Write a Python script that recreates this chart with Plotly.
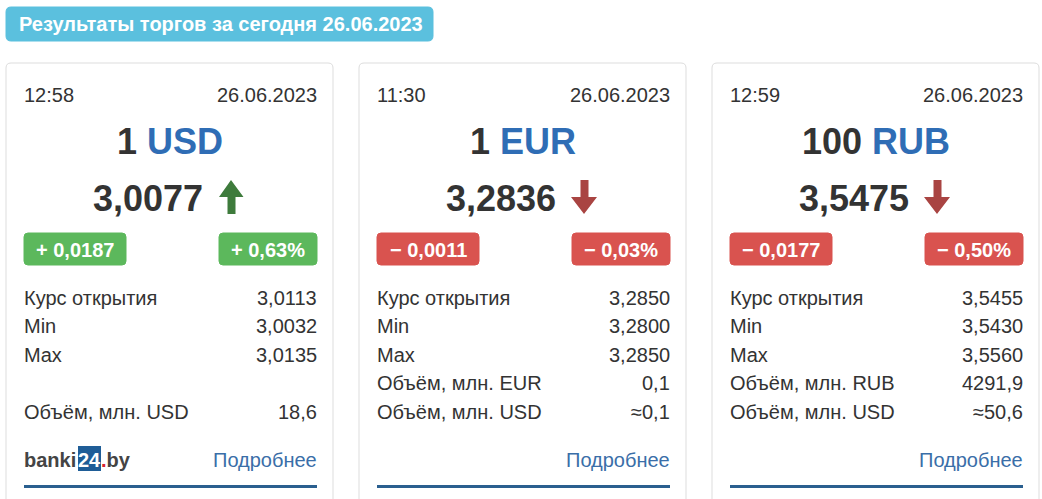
import plotly.graph_objects as go

# trading results for 26.06.2023
title_text = "Результаты торгов за сегодня 26.06.2023"
currencies = ["USD", "EUR", "RUB"]
units = [1, 1, 100]
times = ["12:58", "11:30", "12:59"]
dates = ["26.06.2023", "26.06.2023", "26.06.2023"]
rates = [3.0077, 3.2836, 3.5475]
changes = [0.0187, -0.0011, -0.0177]
change_pct = [0.63, -0.03, -0.50]
open_rates = [3.0113, 3.2850, 3.5455]
min_rates = [3.0032, 3.2800, 3.5430]
max_rates = [3.0135, 3.2850, 3.5560]
volume_own = [None, 0.1, 4291.9]
volume_usd = [18.6, 0.1, 50.6]
volume_usd_approx = [False, True, True]

FONT = "Liberation Sans, Arial, sans-serif"
TXT = "#333333"
BLUE = "#2f6db5"
LINK = "#3a6ea8"
GREEN = "#5cb85c"
RED = "#d9534f"


def num(v, digits):
    return f"{v:.{digits}f}".replace(".", ",")


def signed(v, digits, suffix=""):
    sign = "+" if v >= 0 else "\u2212"
    return f"{sign} {num(abs(v), digits)}{suffix}"


def rrect(x0, y0, x1, y1, r):
    return (f"M{x0 + r},{y0} L{x1 - r},{y0} Q{x1},{y0} {x1},{y0 + r} "
            f"L{x1},{y1 - r} Q{x1},{y1} {x1 - r},{y1} L{x0 + r},{y1} "
            f"Q{x0},{y1} {x0},{y1 - r} L{x0},{y0 + r} Q{x0},{y0} {x0 + r},{y0} Z")


fig = go.Figure()
fig.add_trace(go.Scatter(x=[0], y=[0], mode="markers", marker_opacity=0, hoverinfo="skip"))


def text(x, y, s, size=20, color=TXT, anchor="left", bold=False):
    fig.add_annotation(x=x, y=y, xref="x", yref="y", text=f"<b>{s}</b>" if bold else s,
                       showarrow=False, xanchor=anchor, yanchor="middle",
                       font=dict(family=FONT, size=size, color=color),
                       borderpad=0, borderwidth=0)


def box(x0, y0, x1, y1, fill, r=4, line=None):
    fig.add_shape(type="path", path=rrect(x0, y0, x1, y1, r), xref="x", yref="y",
                  fillcolor=fill, line=dict(color=line or fill, width=1), layer="below")


# header pill
box(6, 7, 433, 41, "#5bc0de", r=5)
text(19, 24, title_text, size=20, color="white", bold=True)

for i, cur in enumerate(currencies):
    x0 = 6 + i * 353
    left, right, c = x0 + 18, x0 + 311, x0 + 163.5

    box(x0, 63, x0 + 327, 530, "white", r=5, line="#dddddd")

    text(left, 95, times[i])
    text(right, 95, dates[i], anchor="right")
    text(c, 141, f"{units[i]} <span style='color:{BLUE}'>{cur}</span>", size=36, anchor="center", bold=True)
    text(c + 33, 198, num(rates[i], 4), size=36, anchor="right", bold=True)

    up = changes[i] >= 0
    if up:
        arrow = (f"M{c + 61.5},180 L{c + 74},197 L{c + 66},197 L{c + 66},214 "
                 f"L{c + 58},214 L{c + 58},197 L{c + 49.5},197 Z")
    else:
        arrow = (f"M{c + 58},180 L{c + 66},180 L{c + 66},197 L{c + 74.5},197 "
                 f"L{c + 61.5},214 L{c + 48.5},197 L{c + 58},197 Z")
    col = "#3e7b3c" if up else "#a94442"
    fig.add_shape(type="path", path=arrow, xref="x", yref="y", fillcolor=col, line=dict(color=col, width=0))

    badge = GREEN if up else RED
    box(left, 233, left + 102, 265, badge)
    text(left + 51, 249.5, signed(changes[i], 4), size=20, color="white", anchor="center", bold=True)
    box(right - 98, 233, right, 265, badge)
    text(right - 49, 249.5, signed(change_pct[i], 2, "%"), size=20, color="white", anchor="center", bold=True)

    rows = [("Курс открытия", num(open_rates[i], 4)),
            ("Min", num(min_rates[i], 4)),
            ("Max", num(max_rates[i], 4))]
    if volume_own[i] is not None:
        rows.append((f"Объём, млн. {cur}", num(volume_own[i], 1)))
    else:
        rows.append(("", ""))
    rows.append(("Объём, млн. USD", ("\u2248" if volume_usd_approx[i] else "") + num(volume_usd[i], 1)))
    for k, (lab, val) in enumerate(rows):
        y = 298 + k * 28.4
        if lab:
            text(left, y, lab)
            text(right, y, val, anchor="right")

    text(right, 460, "Подробнее", color=LINK, anchor="right")
    fig.add_shape(type="line", x0=left, x1=right, y0=486.5, y1=486.5, xref="x", yref="y",
                  line=dict(color="#2a5f8f", width=3))

# banki24.by logo
text(24, 460, "banki", color="#444444", bold=True)
fig.add_shape(type="rect", x0=78, x1=101, y0=446, y1=471, xref="x", yref="y",
              fillcolor="#1f5d97", line=dict(width=0), layer="below")
text(89.5, 460, "24", color="white", anchor="center", bold=True)
text(101, 460, "<span style='color:#d9232e'>.</span>by", color="#444444", bold=True)

fig.update_layout(
    width=1042, height=499,
    margin=dict(l=0, r=0, t=0, b=0),
    paper_bgcolor="white", plot_bgcolor="white",
    xaxis=dict(range=[0, 1042], visible=False, fixedrange=True),
    yaxis=dict(range=[499, 0], visible=False, fixedrange=True),
    showlegend=False,
)

# the page's default body margin would push the figure 8px off
fig.write_html("out.html", config={"displayModeBar": False},
               post_script="document.body.style.margin='0';document.body.style.overflow='hidden';")
